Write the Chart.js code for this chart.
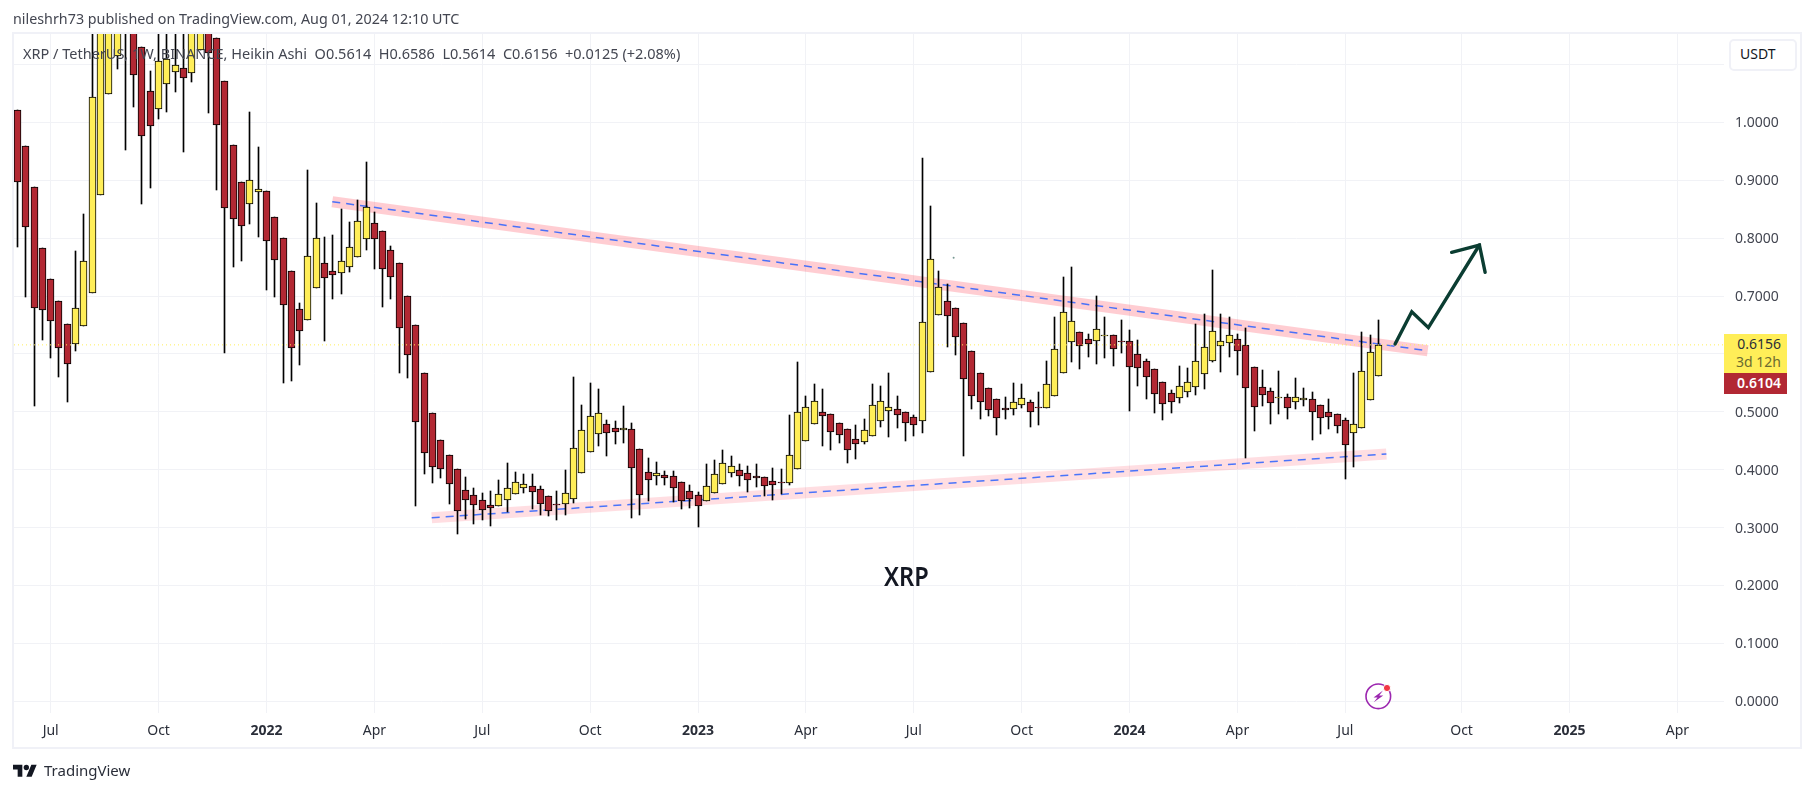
<!DOCTYPE html>
<html><head><meta charset="utf-8">
<script src="https://cdn.jsdelivr.net/npm/chart.js@4"></script>
<style>
html,body{margin:0;padding:0;background:#fff;width:1814px;height:792px;overflow:hidden;font-family:"Noto Sans",sans-serif}
#wrap{position:absolute;left:0;top:0;width:1814px;height:792px}
canvas{position:absolute;left:0;top:0}
.t{position:absolute;white-space:pre;line-height:1}
#frame{position:absolute;left:12px;top:32px;width:1786px;height:713px;border:2px solid #f0f1f7}
#btn{position:absolute;left:1729px;top:39px;width:64px;height:28px;border:2px solid #f0f1f7;border-radius:5px;background:#fff}
.pb{position:absolute;left:1724px;width:63px}
</style></head><body><div id="wrap">
<div id="frame"></div>
<canvas id="c" width="1814" height="792"></canvas>
<div class="t" style="left:13px;top:12px;font-size:14.3px;color:#434651" id="hdr">nileshrh73 published on TradingView.com, Aug 01, 2024 12:10 UTC</div>
<div class="t" style="left:23px;top:46px;font-size:14.5px;color:#434651" id="leg">XRP / TetherUS, 1W, BINANCE, Heikin Ashi  O0.5614  H0.6586  L0.5614  C0.6156  +0.0125 (+2.08%)</div>
<div id="btn"></div>
<div class="t" style="left:1740px;top:47px;font-size:14px;color:#131722">USDT</div>
<div class="pb" style="top:334px;height:39px;background:#ffee58"></div>
<div class="pb" style="top:373px;height:21px;background:#b22833"></div>
<div class="t" style="right:33px;top:337px;font-size:14px;color:#2a2e39">0.6156</div>
<div class="t" style="right:33px;top:355px;font-size:14px;color:#6b6a30">3d 12h</div>
<div class="t" style="right:33px;top:376px;font-size:14px;font-weight:600;color:#fff">0.6104</div>
<div class="t" style="left:884px;top:563px;font-size:26.5px;font-weight:600;color:#131722;transform:scaleX(.89);transform-origin:left">XRP</div>
<svg style="position:absolute;left:1364px;top:682px" width="30" height="30" viewBox="0 0 30 30">
<circle cx="14.3" cy="14.3" r="12.3" fill="none" stroke="#9c27b0" stroke-width="1.6"/>
<path d="M19 8.5 L9.5 15.5 L13.5 15.5 L9.8 20.3 L19.3 13.5 L15.2 13.5 Z" fill="#9c27b0"/>
<circle cx="23" cy="6" r="3.6" fill="#f23645" stroke="#fff" stroke-width="1"/></svg>
<svg style="position:absolute;left:13px;top:764px" width="24" height="13" viewBox="0 0 36 19"><path d="M14 19H7V8H0V1h14v18zM28 19h-8l7.5-18h8L28 19z" fill="#131722"/><circle cx="20" cy="5" r="4" fill="#131722"/></svg>
<div class="t" style="left:44px;top:763px;font-size:15px;color:#2a2e39">TradingView</div>
</div>
<script>
const candleOpen=[1.0206,.9585,.8888,.7835,.7299,.6919,.6510,.6165,.6476,.7046,.8738,1.0483,1.1145,1.27,1.20,1.1306,1.0535,1.0224,1.0655,1.0863,1.0932,1.0845,1.1243,1.20,1.1450,1.0707,.9602,.8963,.8583,.8790,.8807,.8370,.7996,.7426,.6769,.6579,.7132,.7564,.7426,.7391,.7495,.7668,.7978,.8255,.8117,.7788,.7564,.6994,.6493,.5664,.4973,.4507,.4248,.4006,
.3644,.3557,.3471,.3384,.3367,.3471,.3574,.3678,.3713,.3661,.3540,.3402,.3402,.3488,.3937,.4300,.4611,.4783,.4714,.4680,.4697,.4352,.3954,.3885,.3903,.3885,.3782,.3626,.3557,.3454,.3592,.3747,.3937,.3989,.3937,.3885,.3868,.3799,.3782,.3764,.4006,.4490,.4783,.4991,.4956,.4801,.4697,.4524,
.4472,.4576,.4835,.5008,.5042,.4990,.4904,.4835,.5681,.6666,.6908,.6787,.6528,.6044,.5664,.5405,.5215,.5060,.5042,.5111,.5163,.5077,.5060,.5267,.5664,.6200,.6372,.6251,.6217,.6315,.6320,.6217,.6217,.5992,.5871,.5733,.5509,.5319,.5232,.5336,.5422,.5647,.5871,.6130,.6182,.6251,.6148,.5768,.5422,.5353,.5244,.5250,.5163,.5198,
.5215,.5111,.4991,.4956,.4852,.4628,.4714,.5198,.5614];
const candleClose=[.8974,.8197,.6787,.6752,.6562,.6096,.5820,.6787,.7598,1.0431,1.30,1.33,1.28,1.17,1.0811,.9757,.9930,1.1064,1.1087,1.0984,1.0759,1.20,1.22,1.1191,.9947,.8514,.8324,.8203,.8997,.8842,.7944,.7616,.6839,.6096,.6390,.7685,.7996,.7305,.7357,.7598,.7840,.8289,.8531,.7978,.7460,.7322,.6441,.5975,.4818,.4282,.4041,.4006,.3747,.3281,
.3471,.3384,.3298,.3333,.3574,.3678,.3782,.3747,.3609,.3402,.3281,.3396,.3592,.4369,.4680,.4922,.4973,.4628,.4645,.4714,.4024,.3557,.3816,.3937,.3851,.3678,.3454,.3488,.3367,.3713,.3920,.4110,.4058,.3885,.3816,.3851,.3713,.3730,.3764,.4248,.4991,.5077,.5181,.4922,.4645,.4593,.4334,.4438,
.4680,.5111,.5180,.5077,.4939,.4801,.4766,.6545,.7633,.7149,.6649,.6286,.5560,.5267,.5163,.5025,.4887,.5025,.5163,.5232,.4990,.5060,.5474,.6078,.6718,.6562,.6130,.6165,.6424,.6320,.6078,.6200,.5768,.5750,.5595,.5301,.5129,.5163,.5440,.5509,.5871,.6113,.6389,.6217,.6320,.6044,.5405,.5077,.5284,.5146,.5250,.5060,.5250,.5232,
.4991,.4887,.4904,.4749,.4421,.4783,.5699,.6027,.6156];
const candleHigh=[1.0206,.9585,.8888,.7835,.7299,.6919,.6510,.7777,.8410,1.25,1.38,1.40,1.35,1.30,1.20,1.1306,1.0886,1.20,1.22,1.18,1.18,1.25,1.22,1.24,1.1450,1.0707,.9602,.8963,1.0172,.9567,.8807,.8370,.7996,.7426,.6873,.9170,.8600,.8013,.8048,.8497,.8272,.8652,.9308,.8445,.8117,.7858,.7564,.6994,.6493,.5664,.4973,.4507,.4248,.4006,
.3868,.3678,.3592,.3626,.3816,.4110,.3954,.3920,.3920,.3713,.3540,.3626,.3989,.5595,.5112,.5492,.5388,.4853,.4835,.5094,.4801,.4352,.4196,.4127,.3972,.3972,.3782,.3730,.3609,.4093,.4162,.4334,.4231,.4093,.4058,.4093,.3868,.4024,.4006,.4939,.5854,.5267,.5474,.5388,.4956,.4801,.4697,.4766,
.4870,.5474,.5440,.5664,.5267,.4990,.4939,.9377,.8548,.7426,.7201,.6787,.6528,.6044,.5664,.5405,.5215,.5250,.5491,.5474,.5198,.5336,.5871,.6631,.7322,.7495,.6372,.6338,.6994,.6631,.6320,.6579,.6407,.6234,.5906,.5733,.5509,.5370,.5785,.5750,.6510,.6683,.7443,.6683,.6631,.6338,.6441,.5768,.5716,.5405,.5699,.5301,.5578,.5405,
.5336,.5111,.5215,.4956,.4887,.5664,.6372,.6320,.6586];
const candleLow=[.7852,.6988,.5106,.6240,.5935,.5606,.5175,.6056,.6476,.7046,.8738,1.0483,1.0920,.9527,1.0270,.8594,.8871,1.0063,1.0183,1.0529,.9493,1.0702,1.1243,1.0166,.8836,.6021,.7506,.7610,.8249,.8024,.7109,.6988,.5503,.5537,.5814,.6579,.7132,.6228,.6954,.7040,.7420,.7668,.7794,.7472,.6816,.6954,.5676,.5589,.3379,.3931,.3776,.3862,.3413,.2895,
.3154,.3068,.3137,.3033,.3367,.3275,.3574,.3603,.3327,.3223,.3206,.3137,.3223,.3419,.3937,.4300,.4415,.4242,.4450,.4467,.3172,.3223,.3465,.3741,.3741,.3448,.3327,.3344,.3016,.3454,.3592,.3747,.3880,.3724,.3621,.3707,.3540,.3482,.3574,.3730,.4006,.4490,.4783,.4415,.4346,.4467,.4121,.4190,
.4450,.4576,.4743,.4570,.4726,.4501,.4587,.4639,.5681,.6666,.6125,.5986,.4242,.5042,.4881,.4921,.4605,.4881,.4939,.5071,.4743,.4778,.5060,.5267,.5664,.5866,.5745,.5952,.5831,.5935,.5796,.6021,.5019,.5451,.5226,.4985,.4864,.4985,.5157,.5261,.5296,.5399,.5854,.5693,.5938,.5641,.4208,.4674,.5094,.4795,.4968,.4881,.5042,.5094,
.4519,.4622,.4709,.4639,.3845,.4052,.4714,.5198,.5614];
const timeTickIndex=[4,17,30,43,56,69,82,95,108,121,134,147,160,174,187,200];
const timeTickLabels=['Jul','Oct','2022','Apr','Jul','Oct','2023','Apr','Jul','Oct','2024','Apr','Jul','Oct','2025','Apr'];
const priceTicks=[0,.1,.2,.3,.4,.5,.6,.7,.8,.9,1,1.1];
const priceTickLabels=['0.0000','0.1000','0.2000','0.3000','0.4000','0.5000','','0.7000','0.8000','0.9000','1.0000',''];
const lastClose=0.6156;
const upperTrendX=[37.93,169.92], upperTrendY=[.8629,.6055];
const lowerTrendX=[49.91,164.94], lowerTrendY=[.3171,.4271];
const arrowShaftX=[165.99,168.0,170.0,176.15], arrowShaftY=[.617,.6729,.6453,.7881];
const arrowHeadX=[172.8,176.15,176.84], arrowHeadY=[.7755,.7881,.7409];
const strayMarkX=[112.8], strayMarkY=[.766];
const xMin=-0.42,xMax=205.62,yMin=-0.0202,yMax=1.1525;
const UP='#ffee58',DOWN='#b22833',GRID='#f1f2f6';

const pts=(xs,ys)=>xs.map((x,i)=>({x,y:ys[i]}));
const line=(data,color,width,order,extra)=>Object.assign({type:'line',data,borderColor:color,borderWidth:width,pointRadius:0,order,fill:false,tension:0},extra||{});
const snap={id:'snap',afterDatasetsUpdate(ch){
  const xs=ch.scales.x;
  ch.data.datasets.forEach((d,di)=>{
    if(d.type!=='bar')return;
    const w=d.label==='wick'?1:7;
    ch.getDatasetMeta(di).data.forEach((el,i)=>{
      el.x=Math.floor(xs.getPixelForValue(i))+.5;
      el.width=w;
      let a=Math.round(Math.min(el.y,el.base)),b=Math.round(Math.max(el.y,el.base));
      if(b-a<1)b=a+1;
      el.y=a;el.base=b;
    });
  });
}};
new Chart(document.getElementById('c'),{
 data:{datasets:[
  line(pts(upperTrendX,upperTrendY),'rgba(255,82,100,0.29)',11,10),
  line(pts(lowerTrendX,lowerTrendY),'rgba(255,82,100,0.19)',11,10),
  line(pts(upperTrendX,upperTrendY),'rgba(41,98,255,0.85)',1.5,9,{borderDash:[8,6]}),
  line(pts(lowerTrendX,lowerTrendY),'rgba(41,98,255,0.85)',1.5,9,{borderDash:[8,6]}),
  {type:'bar',label:'wick',order:6,grouped:false,barThickness:1,backgroundColor:'#000',borderWidth:0,
   data:candleLow.map((l,i)=>({x:i,y:[l,candleHigh[i]]}))},
  {type:'bar',label:'body',order:5,grouped:false,barThickness:7,borderColor:'#000',borderWidth:1,borderSkipped:false,
   backgroundColor:candleClose.map((c,i)=>c>=candleOpen[i]?UP:DOWN),
   data:candleOpen.map((o,i)=>({x:i,y:[o,candleClose[i]]}))},
  line(pts([xMin,xMax],[lastClose,lastClose]),'#ffee58',1,2,{borderDash:[1,3]}),
  line(pts(arrowShaftX,arrowShaftY),'#0b3d32',3.4,1,{borderCapStyle:'round',borderJoinStyle:'miter'}),
  line(pts(arrowHeadX,arrowHeadY),'#0b3d32',3.4,1,{borderCapStyle:'round',borderJoinStyle:'miter'}),
  {type:'line',showLine:false,data:pts(strayMarkX,strayMarkY),pointRadius:1,pointBackgroundColor:'#7a9a94',pointBorderWidth:0,order:1}
 ]},
 plugins:[snap],
 options:{responsive:false,animation:false,events:[],
  layout:{padding:{left:14,top:34,right:0,bottom:0}},
  plugins:{legend:{display:false},tooltip:{enabled:false}},
  scales:{
   x:{type:'linear',offset:false,min:xMin,max:xMax,
    afterBuildTicks(a){a.ticks=timeTickIndex.map(v=>({value:v}));},
    afterFit(a){a.height=79;},
    border:{display:false},grid:{color:GRID,drawTicks:false,offset:false},
    ticks:{autoSkip:false,maxRotation:0,padding:10,color:'#2a2e39',
     font:c=>({family:'"Noto Sans"',size:14,weight:/^\d/.test(timeTickLabels[timeTickIndex.indexOf(c.tick&&c.tick.value)]||'')?'700':'400'}),
     callback:(v,i)=>timeTickLabels[i]}},
   y:{type:'linear',position:'right',min:yMin,max:yMax,
    afterBuildTicks(a){a.ticks=priceTicks.map(v=>({value:v}));},
    afterFit(a){a.width=90;},
    border:{display:false},grid:{color:GRID,drawTicks:false},
    ticks:{padding:11,labelOffset:1,color:'#434651',font:{family:'"Noto Sans"',size:14},callback:(v,i)=>priceTickLabels[i]}}
  }}
});
</script></body></html>
